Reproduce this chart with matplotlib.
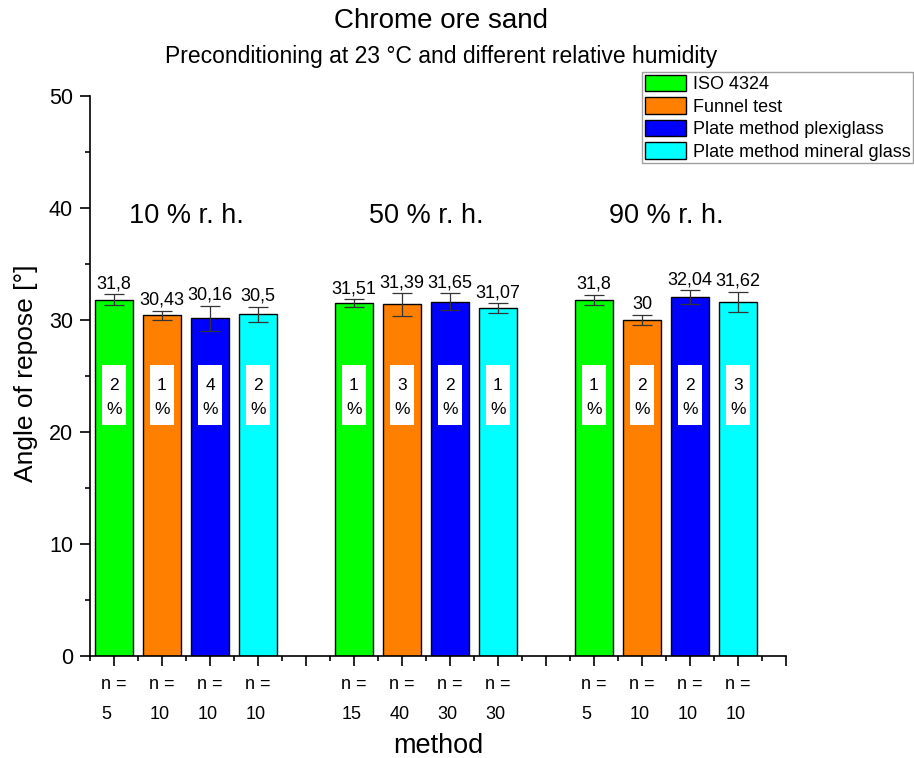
import matplotlib
matplotlib.use("Agg")
import matplotlib.pyplot as plt
from matplotlib.patches import Patch, Rectangle
from matplotlib.ticker import MultipleLocator

plt.rcParams['font.family'] = ['Liberation Sans', 'DejaVu Sans']

methods = ["ISO 4324", "Funnel test", "Plate method plexiglass", "Plate method mineral glass"]
colors = ["#00FF00", "#FF8000", "#0000FF", "#00FFFF"]
groups = ["10 % r. h.", "50 % r. h.", "90 % r. h."]

values_10 = [31.8, 30.43, 30.16, 30.5]
errors_10 = [0.5, 0.4, 1.1, 0.7]
pct_10 = ["2", "1", "4", "2"]
n_10 = [5, 10, 10, 10]

values_50 = [31.51, 31.39, 31.65, 31.07]
errors_50 = [0.33, 1.0, 0.75, 0.42]
pct_50 = ["1", "3", "2", "1"]
n_50 = [15, 40, 30, 30]

values_90 = [31.8, 30.0, 32.04, 31.62]
errors_90 = [0.45, 0.45, 0.6, 0.9]
pct_90 = ["1", "2", "2", "3"]
n_90 = [5, 10, 10, 10]

all_values = [values_10, values_50, values_90]
all_errors = [errors_10, errors_50, errors_90]
all_pct = [pct_10, pct_50, pct_90]
all_n = [n_10, n_50, n_90]

fig = plt.figure(figsize=(9.14, 7.58), dpi=100)
ax = fig.add_axes([90/914, 1-656/758, 696/914, 560/758])

tick_pos = []
tick_lab = []
for g in range(3):
    base = 1 + 5*g
    for i in range(4):
        x = base + i
        v = all_values[g][i]
        e = all_errors[g][i]
        ax.bar(x, v, width=0.8, color=colors[i], edgecolor='black', linewidth=1.0, zorder=2)
        ax.errorbar(x, v, yerr=e, fmt='none', ecolor='#333333', elinewidth=0.9, capsize=7, capthick=0.9, zorder=3)
        lab = ("%g" % v).replace('.', ',')
        ax.annotate(lab, (x, v+e), xytext=(0, 1.5), textcoords='offset points',
                    ha='center', va='bottom', fontsize=13, zorder=4)
        ax.add_patch(Rectangle((x - 0.245, 20.63), 0.49, 5.35, facecolor='white',
                               edgecolor='none', zorder=3))
        ax.text(x, 23.1, all_pct[g][i] + "\n%", ha='center', va='center', fontsize=12.5,
                linespacing=1.75, zorder=4)
        tick_pos.append(x)
        tick_lab.append("n =\n%d" % all_n[g][i])
    ax.text(base + 1.5, 38.65, groups[g], ha='center', va='baseline', fontsize=19.5)

ax.set_xlim(0.5, 15)
ax.set_ylim(0, 50)
ticks_all = list(range(1, 16))
labels_all = []
for t in ticks_all:
    if t in tick_pos:
        labels_all.append(tick_lab[tick_pos.index(t)])
    else:
        labels_all.append("")
ax.set_xticks(ticks_all)
ax.set_xticklabels(labels_all, fontsize=13, linespacing=2.0, multialignment='left')
ax.xaxis.set_minor_locator(MultipleLocator(0.5))
ax.yaxis.set_major_locator(MultipleLocator(10))
ax.yaxis.set_minor_locator(MultipleLocator(5))
ax.tick_params(axis='both', which='major', direction='out', length=7.2, width=1.2, labelsize=15.5, pad=5)
ax.tick_params(axis='both', which='minor', direction='out', length=3.6, width=1.2)
ax.tick_params(axis='x', which='major', labelsize=13, pad=7)
for s in ['top', 'right']:
    ax.spines[s].set_visible(False)
for s in ['left', 'bottom']:
    ax.spines[s].set_linewidth(1.2)

ax.set_ylabel("Angle of repose [°]", fontsize=19)
ax.yaxis.set_label_coords(-0.074, 0.505)
ax.set_xlabel("method", fontsize=19.5)
ax.xaxis.set_label_coords(0.5, -0.138)

fig.text(441/914, 1-21/758, "Chrome ore sand", ha='center', va='center', fontsize=20)
fig.text(441/914, 1-57/758, "Preconditioning at 23 °C and different relative humidity",
         ha='center', va='center', fontsize=16.5)

handles = [Patch(facecolor=c, edgecolor='black', linewidth=1.0) for c in colors]
leg = fig.legend(handles, methods, loc='upper left', bbox_to_anchor=(642/914, 1-72/758),
                 fontsize=13, frameon=True, fancybox=False, borderpad=0.15,
                 labelspacing=0.22, handlelength=2.3, handleheight=1.05,
                 handletextpad=0.35, borderaxespad=0)
leg.get_frame().set_edgecolor('#888888')
leg.get_frame().set_linewidth(1.0)

fig.savefig("out.png", dpi=100)
